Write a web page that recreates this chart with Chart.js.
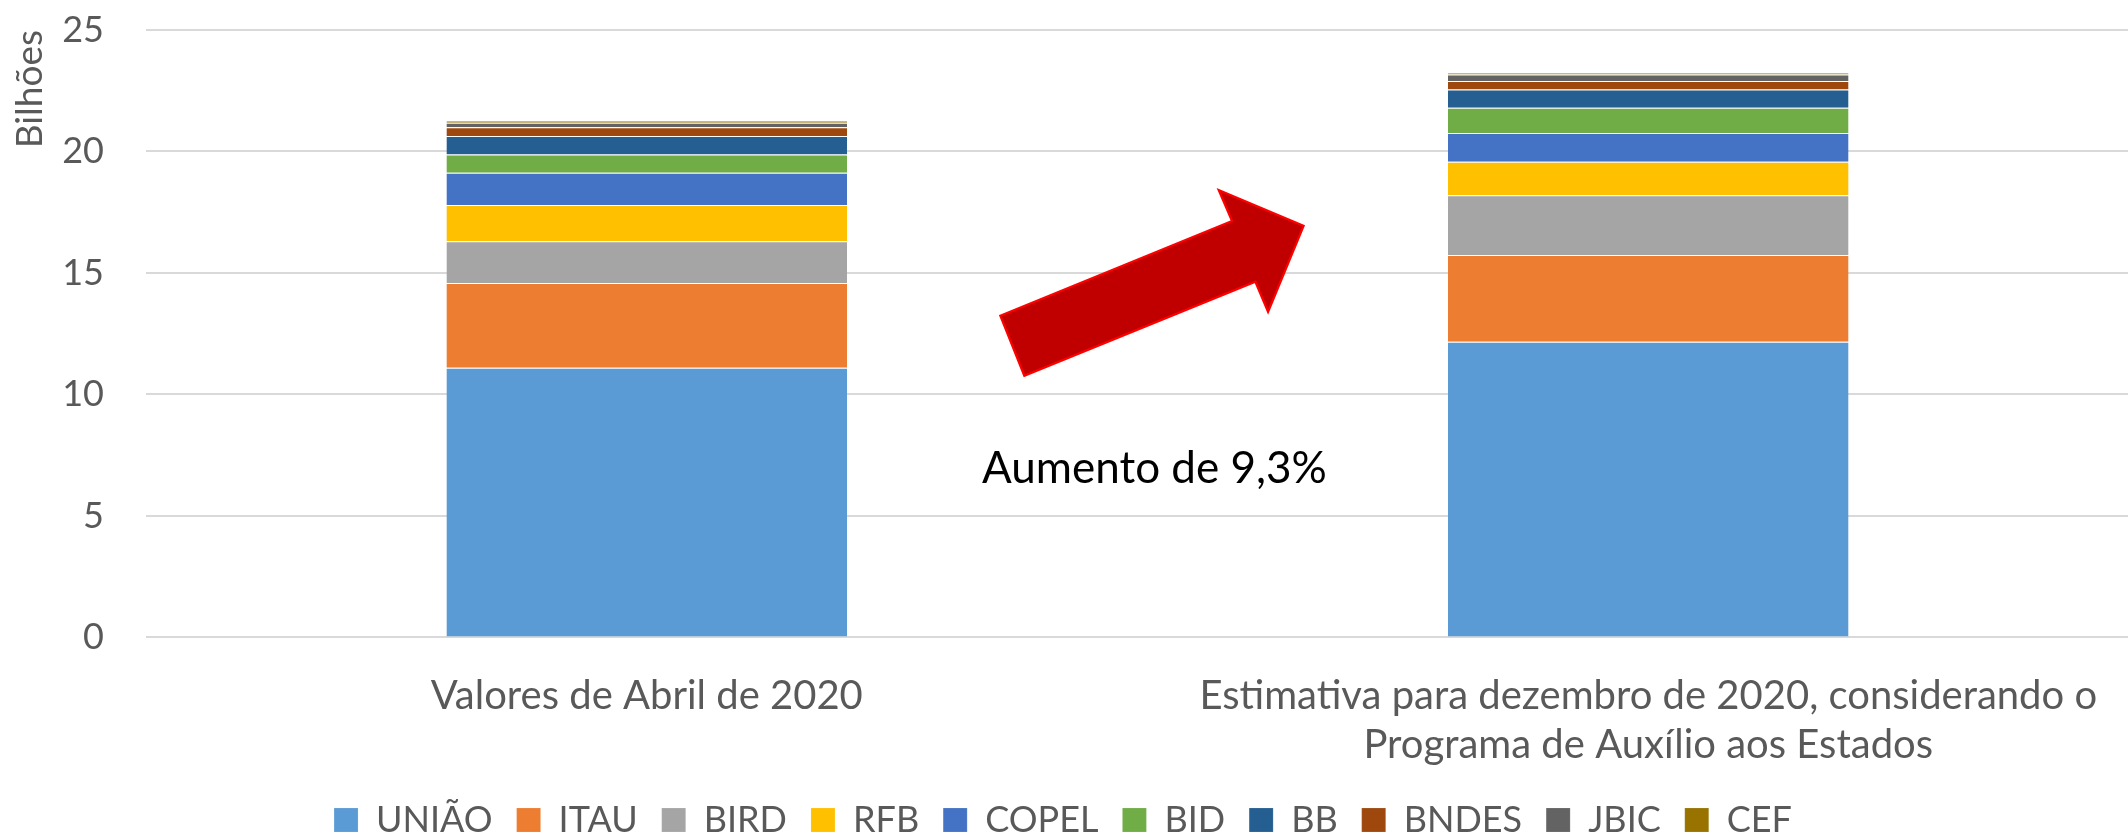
<!DOCTYPE html>
<html>
<head>
<meta charset="utf-8">
<script src="https://cdn.jsdelivr.net/npm/chart.js@4.4.1/dist/chart.umd.min.js"></script>
<style>
  html, body { margin: 0; padding: 0; overflow: hidden; background: #ffffff; width: 2128px; height: 837px; }
  #wrap { position: absolute; left: 0; top: 0; width: 2149px; height: 880px; }
</style>
</head>
<body>
<div id="wrap"><canvas id="c" width="2149" height="880"></canvas></div>
<script>
// ---- data ----
const categories = ["Valores de Abril de 2020", ["Estimativa para dezembro de 2020, considerando o", "Programa de Auxílio aos Estados"]];
const seriesNames = ["UNIÃO", "ITAU", "BIRD", "RFB", "COPEL", "BID", "BB", "BNDES", "JBIC", "CEF"];
const uniao = [11.10, 12.17];
const itau  = [3.49, 3.57];
const bird  = [1.72, 2.46];
const rfb   = [1.49, 1.38];
const copel = [1.32, 1.18];
const bid   = [0.76, 1.04];
const bb    = [0.76, 0.75];
const bndes = [0.36, 0.35];
const jbic  = [0.18, 0.27];
const cef   = [0.09, 0.07];
const yTicks = [0, 5, 10, 15, 20, 25];
const annotationText = "Aumento de 9,3%";
// arrow outline in (category index, value) units
const arrowIdx = [0.3530, 0.5844, 0.5711, 0.6559, 0.6204, 0.6077, 0.3770];
const arrowVal = [13.24, 17.14, 18.41, 16.94, 13.40, 14.64, 10.77];
const textIdx = 0.3348, textVal = 6.354;

const colors = ["#5B9BD5", "#ED7D31", "#A5A5A5", "#FFC000", "#4472C4", "#70AD47", "#255E91", "#9E480E", "#636363", "#997300"];
const values = [uniao, itau, bird, rfb, copel, bid, bb, bndes, jbic, cef];

const datasets = seriesNames.map((n, i) => ({
  label: n,
  data: values[i],
  backgroundColor: colors[i],
  borderColor: "rgba(255,255,255,0.55)",
  borderWidth: {top: 1, left: 0, right: 0, bottom: 0},
  borderSkipped: false,
  categoryPercentage: 1,
  barPercentage: 0.4
}));

const FONT = "Lato";
const CHART_BOTTOM = 637.4;   // pixel of the zero line
const LEGEND_CENTER = 820;
const LEGEND_PAD = 24;
const LEGEND_FONT = 36;

const annotationPlugin = {
  id: "annot",
  afterLayout(chart) {
    const lg = chart.legend;
    if (lg) {
      const shift = 1063 - (lg.left + lg.right) / 2;
      lg.left += shift; lg.right += shift;
      const h = lg.height;
      lg.top = LEGEND_CENTER - LEGEND_PAD - LEGEND_FONT / 2;
      lg.bottom = lg.top + h;
    }
  },
  afterDatasetsDraw(chart) {
    const ctx = chart.ctx;
    const xs = chart.scales.x, ys = chart.scales.y;
    ctx.save();
    ctx.beginPath();
    for (let i = 0; i < arrowIdx.length; i++) {
      const px = xs.getPixelForValue(arrowIdx[i]);
      const py = ys.getPixelForValue(arrowVal[i]);
      if (i === 0) ctx.moveTo(px, py); else ctx.lineTo(px, py);
    }
    ctx.closePath();
    ctx.fillStyle = "#C00000";
    ctx.fill();
    ctx.lineWidth = 2.2;
    ctx.strokeStyle = "#FF0000";
    ctx.lineJoin = "miter";
    ctx.stroke();
    ctx.font = "44px " + FONT;
    ctx.fillStyle = "#000000";
    ctx.textAlign = "left";
    ctx.textBaseline = "alphabetic";
    ctx.fillText(annotationText, xs.getPixelForValue(textIdx), ys.getPixelForValue(textVal));
    ctx.restore();
  }
};

new Chart(document.getElementById("c"), {
  type: "bar",
  data: { labels: categories, datasets },
  plugins: [annotationPlugin],
  options: {
    responsive: false,
    devicePixelRatio: 1,
    animation: false,
    layout: { padding: { top: 30, left: 0, right: 0, bottom: 0 } },
    plugins: {
      tooltip: { enabled: false },
      legend: {
        position: "bottom",
        labels: {
          boxWidth: 24, boxHeight: 24, padding: LEGEND_PAD,
          color: "#595959",
          font: { family: FONT, size: LEGEND_FONT }
        }
      }
    },
    scales: {
      x: {
        stacked: true,
        grid: { display: false, drawTicks: false },
        border: { display: false },
        ticks: { color: "#595959", padding: 34, maxRotation: 0, autoSkip: false,
                 font: { family: FONT, size: 40, lineHeight: 1.225 } },
        afterFit(s) {
          const lh = s.chart.legend ? s.chart.legend.height : 0;
          s.height = s.chart.height - lh - CHART_BOTTOM;
          s.paddingLeft = 0; s.paddingRight = 0;
        }
      },
      y: {
        stacked: true,
        min: 0, max: 25,
        afterBuildTicks(s) { s.ticks = yTicks.map(v => ({ value: v })); },
        grid: { color: "#D9D9D9", lineWidth: 2, drawTicks: false },
        border: { display: false },
        ticks: { color: "#595959", padding: 42, font: { family: FONT, size: 36 } },
        title: { display: true, text: "Bilhões", align: "end", color: "#595959",
                 padding: { top: 8, bottom: 0 }, font: { family: FONT, size: 37 } },
        afterFit(s) { s.width = 146; s.paddingTop = 0; s.paddingBottom = 0; }
      }
    }
  }
});
</script>
</body>
</html>
